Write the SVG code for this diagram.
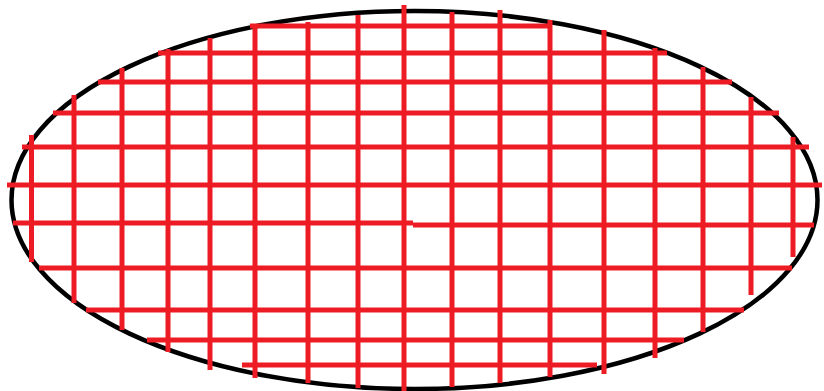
<svg xmlns="http://www.w3.org/2000/svg" width="824" height="391" viewBox="0 0 824 391">
<style>
.bg{fill:#ffffff}
.outline{fill:none;stroke:#000000;stroke-width:4.5}
.grid line{stroke:#ED1C24;stroke-width:5;stroke-linecap:butt}
</style>
<rect class="bg" x="0" y="0" width="824" height="391"/>
<g id="ellipse">
<ellipse class="outline" cx="414.5" cy="200" rx="403" ry="189"/>
</g>
<g id="grid" class="grid">
<line x1="250" y1="26" x2="550" y2="26"/>
<line x1="158" y1="53" x2="667" y2="53"/>
<line x1="98" y1="82" x2="732" y2="82"/>
<line x1="53" y1="113" x2="779" y2="113"/>
<line x1="22" y1="147" x2="809" y2="147"/>
<line x1="7" y1="185" x2="822" y2="185"/>
<line x1="13" y1="223" x2="413" y2="223"/>
<line x1="413" y1="225" x2="814" y2="225"/>
<line x1="39" y1="268" x2="792" y2="268"/>
<line x1="86" y1="310" x2="744" y2="310"/>
<line x1="147" y1="340" x2="684" y2="340"/>
<line x1="242" y1="365" x2="597" y2="365"/>
<line x1="31.5" y1="135" x2="31.5" y2="262"/>
<line x1="74" y1="95" x2="74" y2="303"/>
<line x1="122" y1="68" x2="122" y2="330"/>
<line x1="168" y1="49" x2="168" y2="352"/>
<line x1="210" y1="38" x2="210" y2="370"/>
<line x1="255" y1="25" x2="255" y2="378"/>
<line x1="308" y1="22" x2="308" y2="383"/>
<line x1="358" y1="15" x2="358" y2="388"/>
<line x1="404" y1="5" x2="404" y2="391"/>
<line x1="452" y1="12" x2="452" y2="387"/>
<line x1="500" y1="10" x2="500" y2="383"/>
<line x1="550" y1="20" x2="550" y2="377"/>
<line x1="604" y1="30" x2="604" y2="374"/>
<line x1="655" y1="48" x2="655" y2="358"/>
<line x1="703" y1="67" x2="703" y2="332"/>
<line x1="751" y1="97" x2="751" y2="295"/>
<line x1="793" y1="137" x2="793" y2="257"/>
</g>
</svg>
